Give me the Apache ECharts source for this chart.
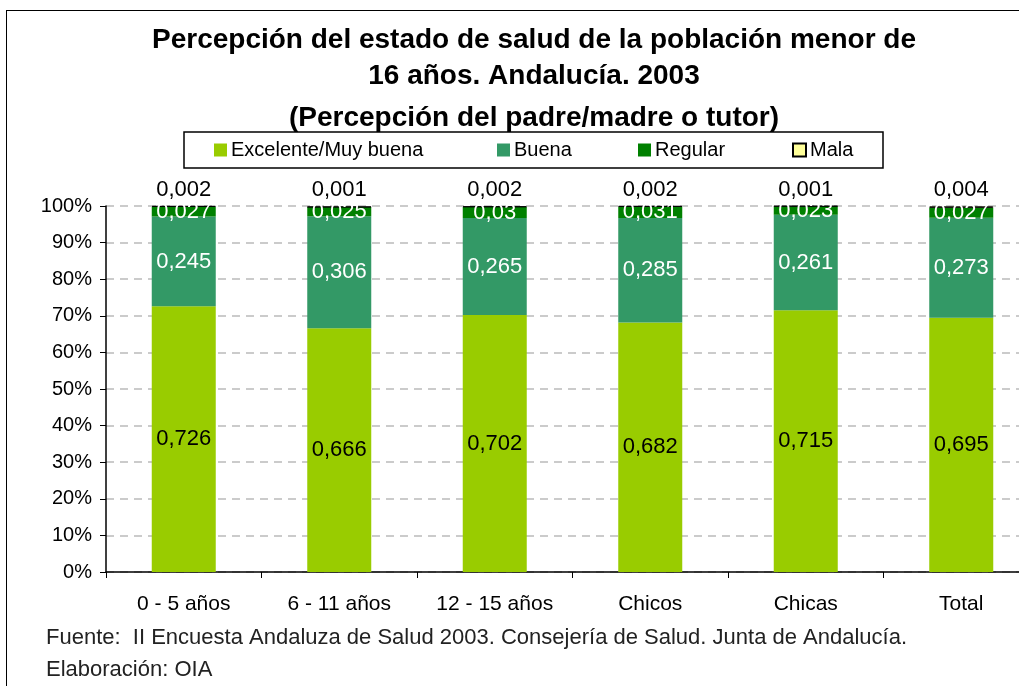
<!DOCTYPE html>
<html><head><meta charset="utf-8">
<script src="https://cdn.jsdelivr.net/npm/echarts@6/dist/echarts.min.js"></script>
<style>
html,body{margin:0;padding:0;background:#fff;overflow:hidden;width:1019px;height:686px}
#frame{position:absolute;left:6px;top:10px;width:1100px;height:800px;border:1.5px solid #000;box-sizing:border-box}
#c{position:absolute;left:0;top:0;width:1060px;height:686px}
</style></head><body>
<div id="frame"></div>
<div id="c"></div>
<script>
const categories = ['0 - 5 años','6 - 11 años','12 - 15 años','Chicos','Chicas','Total'];
const excelente = [0.726,0.666,0.702,0.682,0.715,0.695];
const buena = [0.245,0.306,0.265,0.285,0.261,0.273];
const regular = [0.027,0.025,0.03,0.031,0.023,0.027];
const mala = [0.002,0.001,0.002,0.002,0.001,0.004];
const seriesNames = ['Excelente/Muy buena','Buena','Regular','Mala'];
const titleLines = ['Percepción del estado de salud de la población menor de','16 años. Andalucía. 2003','(Percepción del padre/madre o tutor)'];
const footLines = ['Fuente:  II Encuesta Andaluza de Salud 2003. Consejería de Salud. Junta de Andalucía.','Elaboración: OIA'];

const font = 'Liberation Sans, Arial, sans-serif';
const fmt = v => String(v).replace('.', ',');
const chart = echarts.init(document.getElementById('c'));
function mk(name, data, color, labelColor, pos, extra){
  return Object.assign({
    name, type:'bar', stack:'s', data, barWidth:64,
    itemStyle:{color},
    label:{show:true, position:pos, color:labelColor, fontFamily:font, fontSize:22,
      formatter:p=>fmt(p.value)}
  }, extra||{});
}
const titleY = [40, 76, 118];
const legendX = [214, 497, 638, 792];
chart.setOption({
  animation:false,
  textStyle:{fontFamily:font},
  legend: seriesNames.map((n,i)=>({
    data:[n], left:legendX[i], top:150, padding:0,
    itemWidth:13, itemHeight:13, icon:'rect', itemGap:0,
    textStyle:{fontSize:20, color:'#000', fontFamily:font, padding:[0,0,0,-1]},
    orient:'horizontal'
  })).map(l=>Object.assign(l,{top:140})),
  grid:{left:106, top:206, width:933, height:366, containLabel:false},
  xAxis:{
    type:'category', data:categories,
    axisLine:{lineStyle:{color:'#000', width:1.5}},
    axisTick:{show:true, length:6, lineStyle:{color:'#000'}},
    axisLabel:{fontSize:21, color:'#000', margin:22, fontFamily:font}
  },
  yAxis:{
    type:'value', min:0, max:1, interval:0.1,
    axisLine:{show:true, lineStyle:{color:'#000', width:1.5}},
    axisTick:{show:true, length:6, lineStyle:{color:'#000'}},
    axisLabel:{fontSize:20, color:'#000', margin:14, fontFamily:font, formatter:v=>Math.round(v*100)+'%'},
    splitLine:{show:true, lineStyle:{color:'#bbb', type:[8,6], width:1.5}}
  },
  series:[
    mk(seriesNames[0], excelente, '#99CC00', '#000', 'inside'),
    mk(seriesNames[1], buena, '#339966', '#fff', 'inside'),
    mk(seriesNames[2], regular, '#008000', '#fff', 'inside'),
    mk(seriesNames[3], mala, '#FFFF99', '#000', 'top', {itemStyle:{color:'#FFFF99', borderColor:'#000', borderWidth:1}})
  ],
  graphic: [
    ...titleLines.map((t,i)=>({
      type:'text', x:534, y:titleY[i], z:1,
      style:{text:t, fontSize:28, fontWeight:'bold', fill:'#000', fontFamily:font, align:'center', verticalAlign:'middle'}
    })),
    {type:'rect', z:2, shape:{x:184, y:132, width:699, height:36},
      style:{fill:'#fff', stroke:'#000', lineWidth:1.5}},
    ...footLines.map((t,i)=>({
      type:'text', x:46, y:638+i*32,
      style:{text:t, fontSize:22, fill:'#222', fontFamily:font, verticalAlign:'middle'}
    }))
  ]
});
</script>
</body></html>
